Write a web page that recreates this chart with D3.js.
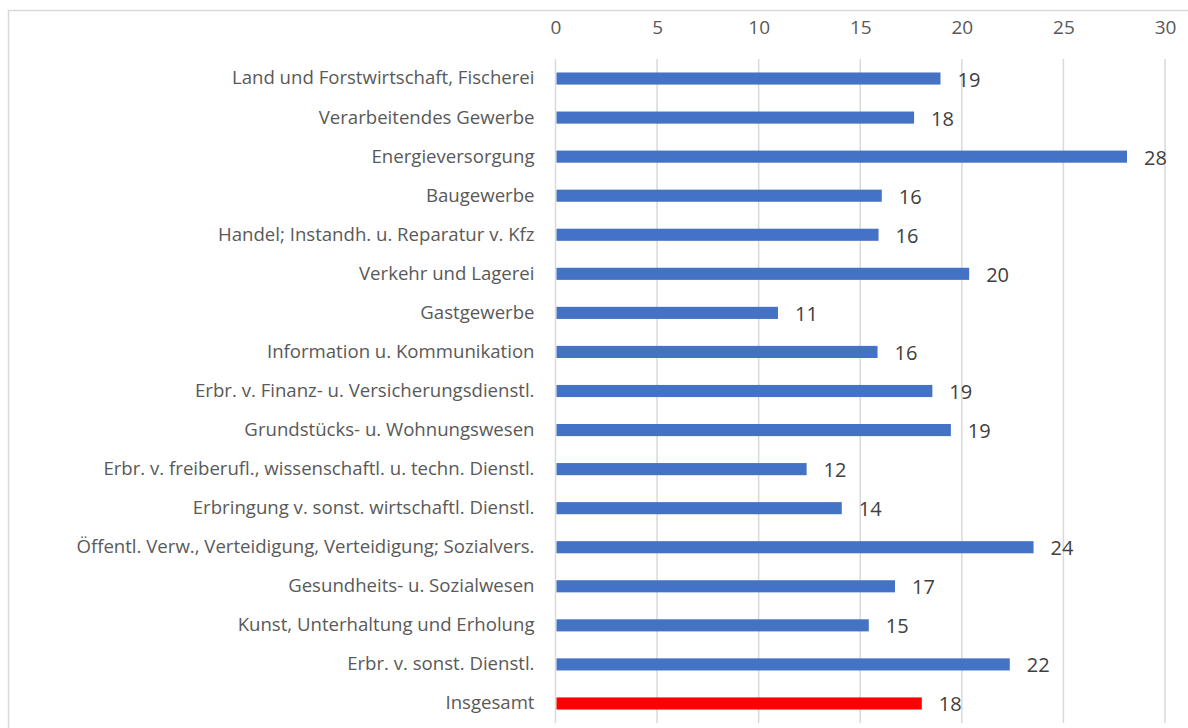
<!DOCTYPE html>
<head>
  <meta charset="utf-8">
  <script src="https://d3js.org/d3.v7.min.js"></script>
  <style>
    body { margin: 0; background: #fff; }
    text { font-family: "Open Sans", sans-serif; }
  </style>
</head>
<body>
  <script>
    var categories = [
      "Land und Forstwirtschaft, Fischerei",
      "Verarbeitendes Gewerbe",
      "Energieversorgung",
      "Baugewerbe",
      "Handel; Instandh. u. Reparatur v. Kfz",
      "Verkehr und Lagerei",
      "Gastgewerbe",
      "Information u. Kommunikation",
      "Erbr. v. Finanz- u. Versicherungsdienstl.",
      "Grundstücks- u. Wohnungswesen",
      "Erbr. v. freiberufl., wissenschaftl. u. techn. Dienstl.",
      "Erbringung v. sonst. wirtschaftl. Dienstl.",
      "Öffentl. Verw., Verteidigung, Verteidigung; Sozialvers.",
      "Gesundheits- u. Sozialwesen",
      "Kunst, Unterhaltung und Erholung",
      "Erbr. v. sonst. Dienstl.",
      "Insgesamt"
    ];
    var values = [18.95, 17.65, 28.13, 16.06, 15.9, 20.36, 10.95, 15.85, 18.55,
      19.46, 12.36, 14.09, 23.53, 16.71, 15.42, 22.36, 18.03];
    var ticks = [0, 5, 10, 15, 20, 25, 30];

    var W = 1188, H = 728;
    var margin = { top: 59, left: 555.5, right: 23, bottom: 5 };
    var width = W - margin.left - margin.right,
      height = H - margin.top - margin.bottom;

    var svg = d3.select("body").append("svg")
      .attr("width", W)
      .attr("height", H);

    // chart frame (runs off the right / bottom edge)
    svg.append("rect")
      .attr("x", 8.5).attr("y", 10.5)
      .attr("width", W + 20).attr("height", H + 20)
      .attr("fill", "none")
      .attr("stroke", "#d9d9d9")
      .attr("stroke-width", 1.5);

    var g = svg.append("g")
      .attr("transform", "translate(" + margin.left + "," + margin.top + ")");

    var x = d3.scaleLinear().domain([0, 30]).range([0, width]);
    var y = d3.scaleBand().domain(categories).range([0, height]).paddingInner(0.69).paddingOuter(0.345);

    // gridlines
    g.selectAll(".grid")
      .data(ticks)
      .enter().append("line")
      .attr("x1", d => x(d)).attr("x2", d => x(d))
      .attr("y1", 0).attr("y2", height)
      .attr("stroke", "#d9d9d9")
      .attr("stroke-width", 1.5);

    // top axis labels
    var xAxis = g.append("g")
      .call(d3.axisTop(x).tickValues(ticks).tickSize(0).tickPadding(0));
    xAxis.select(".domain").remove();
    xAxis.selectAll("text")
      .attr("y", -32)
      .attr("dy", "0.35em")
      .attr("fill", "#595959")
      .style("font-size", "19px")
      .style("font-family", "'Open Sans', sans-serif");

    // category labels
    var yAxis = g.append("g")
      .call(d3.axisLeft(y).tickSize(0).tickPadding(21));
    yAxis.select(".domain").remove();
    yAxis.selectAll("text")
      .attr("fill", "#595959")
      .style("font-size", "18.6px")
      .style("font-family", "'Open Sans', sans-serif");

    // bars
    g.selectAll(".bar")
      .data(values)
      .enter().append("rect")
      .attr("x", x(0) + 1)
      .attr("y", (d, i) => y(categories[i]))
      .attr("width", d => x(d) - x(0) - 1)
      .attr("height", y.bandwidth())
      .attr("fill", (d, i) => categories[i] === "Insgesamt" ? "#ff0000" : "#4472c4");

    // value labels
    g.selectAll(".lbl")
      .data(values)
      .enter().append("text")
      .attr("x", d => x(d) + 17)
      .attr("y", (d, i) => y(categories[i]) + y.bandwidth() / 2 + 1)
      .attr("dy", "0.35em")
      .attr("fill", "#404040")
      .style("font-size", "20px")
      .text(d => Math.round(d));
  </script>
</body>
